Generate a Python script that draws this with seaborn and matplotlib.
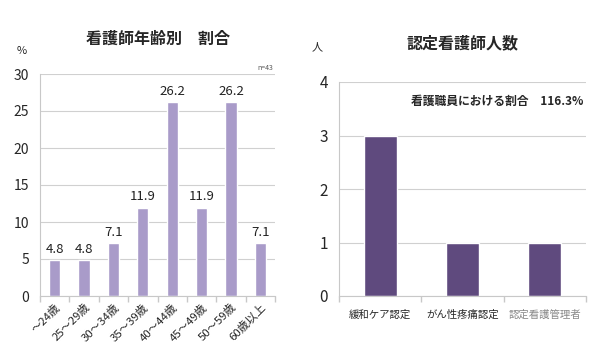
import numpy as np
import pandas as pd
import matplotlib.pyplot as plt
import seaborn as sns

# data
age_groups = ['～24歳', '25～29歳', '30～34歳', '35～39歳', '40～44歳', '45～49歳', '50～59歳', '60歳以上']
age_pct = [4.8, 4.8, 7.1, 11.9, 26.2, 11.9, 26.2, 7.1]
cert_types = ['緩和ケア認定', 'がん性疼痛認定', '認定看護管理者']
cert_counts = [3, 1, 1]

sns.set_theme(style='white')
plt.rcParams['font.family'] = ['Noto Sans CJK JP', 'DejaVu Sans']

fig = plt.figure(figsize=(6.08, 3.54), dpi=100)
W, H = 608, 354
ax1 = fig.add_axes([40 / W, 1 - 296 / H, 235 / W, 222 / H])
ax2 = fig.add_axes([339 / W, 1 - 296 / H, 247 / W, 214 / H])

grid_c = '#d0d0d0'

# left: age distribution
df1 = pd.DataFrame({'age': age_groups, 'pct': age_pct})
sns.barplot(data=df1, x='age', y='pct', color='#a99bc9', saturation=1, width=0.38, ax=ax1)
ax1.set_ylim(0, 30)
ax1.set_yticks(range(0, 31, 5))
for i, v in enumerate(age_pct):
    ax1.text(i, v + 0.6, f'{v:.1f}', ha='center', va='bottom', fontsize=9.5, color='#222222')
ax1.set_xticks(range(len(age_groups)))
ax1.set_xticklabels(age_groups, rotation=45, ha='right', rotation_mode='anchor', fontsize=8.2)
ax1.set_title('看護師年齢別　割合', fontsize=11.5, fontweight='bold', pad=22)
ax1.text(-0.1, 1.09, '%', transform=ax1.transAxes, fontsize=8)
ax1.text(0.99, 1.02, 'n=43', transform=ax1.transAxes, fontsize=5, ha='right', color='#555555')
ax1.tick_params(axis='y', labelsize=10)

# right: certified nurses
df2 = pd.DataFrame({'type': cert_types, 'count': cert_counts})
sns.barplot(data=df2, x='type', y='count', color='#5f4a7e', saturation=1, width=0.4, ax=ax2)
ax2.set_ylim(0, 4)
ax2.set_yticks(range(0, 5))
ax2.set_xticks(range(len(cert_types)))
ax2.set_xticklabels(cert_types, fontsize=7.5)
ax2.get_xticklabels()[2].set_color('#888888')
ax2.set_title('認定看護師人数', fontsize=11.5, fontweight='bold', pad=24)
ax2.text(-0.11, 1.15, '人', transform=ax2.transAxes, fontsize=8)
ax2.text(0.99, 0.91, '看護職員における割合　116.3%', transform=ax2.transAxes,
         fontsize=8.5, fontweight='bold', ha='right', va='center')
ax2.tick_params(axis='y', labelsize=11)

for ax in (ax1, ax2):
    ax.set_xlabel('')
    ax.set_ylabel('')
    ax.yaxis.grid(True, color=grid_c, linewidth=0.8)
    ax.set_axisbelow(True)
    for s in ('top', 'right'):
        ax.spines[s].set_visible(False)
    for s in ('left', 'bottom'):
        ax.spines[s].set_color('#c8c8c8')
        ax.spines[s].set_linewidth(0.8)
    n = len(ax.get_xticks())
    ax.set_xlim(-0.5, n - 0.5)
    ax.set_xticks(np.arange(-0.5, n, 1), minor=True)
    ax.tick_params(axis='x', which='minor', length=4, color='#c8c8c8', bottom=True)
    ax.tick_params(axis='y', length=0, pad=8)

ax1.tick_params(axis='x', which='major', length=0, pad=4)
ax2.tick_params(axis='x', which='major', length=0, pad=10)

fig.savefig('out.png', dpi=100)
